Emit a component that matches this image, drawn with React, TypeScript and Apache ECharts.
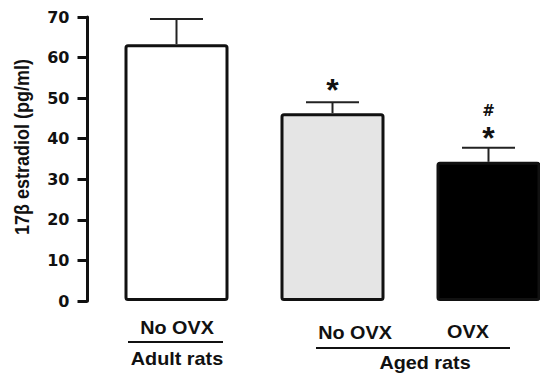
import React, { useEffect, useRef } from "react";
import * as echarts from "echarts";

const categories = ["Adult No OVX", "Aged No OVX", "Aged OVX"];
const means = [63.3, 46.3, 34.3];
const sem = [6.2, 2.7, 3.5];
const starValues = [null, 53.5, 41.7];
const hashValues = [null, null, 47.1];
const yTicks = { min: 0, max: 70, interval: 10 };
const yTitle = "17β estradiol (pg/ml)";
const subLabels = ["No OVX", "No OVX", "OVX"];
const groupLabels = ["Adult rats", "Aged rats"];

const FONT = '"Liberation Sans", Arial, Helvetica, sans-serif';
const WIDE = '"DejaVu Sans", "Liberation Sans", sans-serif';

export default function App() {
  const ref = useRef<HTMLDivElement>(null);
  useEffect(() => {
    if (!ref.current) return;
    const chart = echarts.init(ref.current, null, { renderer: "svg" });
    const fills = ["#ffffff", "#e5e5e5", "#000000"];
    const labelStyle = (text: string, x: number, y: number) => ({
      type: "text",
      x,
      y,
      scaleX: 1.1,
      style: {
        text,
        fontSize: 18,
        fontWeight: "bold",
        fontFamily: FONT,
        fill: "#111",
        align: "center",
        verticalAlign: "middle",
      },
    });
    chart.setOption({
      animation: false,
      grid: {
        left: 98.5,
        width: 468,
        top: 17,
        height: 284,
        containLabel: false,
        outerBoundsMode: "none",
      },
      xAxis: {
        type: "category",
        data: categories,
        axisLine: { show: false },
        axisTick: { show: false },
        axisLabel: { show: false },
        splitLine: { show: false },
      },
      yAxis: {
        type: "value",
        min: yTicks.min,
        max: yTicks.max,
        interval: yTicks.interval,
        offset: 11,
        axisLine: { show: true, lineStyle: { color: "#111", width: 3 } },
        axisTick: { show: true, length: 10, inside: false, lineStyle: { color: "#111", width: 3 } },
        axisLabel: {
          color: "#111",
          fontSize: 16,
          fontWeight: "bold",
          fontFamily: WIDE,
          margin: 18,
        },
        splitLine: { show: false },
      },
      series: [
        {
          type: "bar",
          barWidth: 104,
          data: means.map((v, i) => ({
            value: v,
            itemStyle: {
              color: fills[i],
              borderColor: "#111",
              borderWidth: 3,
              borderRadius: 2,
            },
          })),
          z: 2,
        },
        {
          type: "custom",
          z: 3,
          data: means.map((m, i) => [i, m, m + sem[i]]),
          renderItem: (params: any, api: any) => {
            const base = api.coord([api.value(0), api.value(1)]);
            const top = api.coord([api.value(0), api.value(2)]);
            const st = { stroke: "#222", lineWidth: 2 };
            return {
              type: "group",
              children: [
                { type: "line", shape: { x1: base[0], y1: base[1], x2: base[0], y2: top[1] }, style: st },
                { type: "line", shape: { x1: base[0] - 26.5, y1: top[1], x2: base[0] + 26.5, y2: top[1] }, style: st },
              ],
            };
          },
        },
        {
          type: "custom",
          z: 4,
          data: starValues.map((v, i) => [i, v == null ? NaN : v]).filter((d) => !isNaN(d[1] as number)),
          renderItem: (params: any, api: any) => {
            const p = api.coord([api.value(0), api.value(1)]);
            return {
              type: "text",
              x: p[0],
              y: p[1] + 6,
              style: {
                text: "*",
                fontSize: 32,
                fontWeight: "bold",
                fontFamily: FONT,
                fill: "#111",
                align: "center",
                verticalAlign: "middle",
              },
            };
          },
        },
        {
          type: "custom",
          z: 4,
          data: hashValues.map((v, i) => [i, v == null ? NaN : v]).filter((d) => !isNaN(d[1] as number)),
          renderItem: (params: any, api: any) => {
            const p = api.coord([api.value(0), api.value(1)]);
            return {
              type: "text",
              x: p[0],
              y: p[1] + 1,
              style: {
                text: "#",
                fontSize: 15,
                fontWeight: "bold",
                fontFamily: WIDE,
                fill: "#111",
                align: "center",
                verticalAlign: "middle",
              },
            };
          },
        },
      ],
      graphic: [
        {
          type: "text",
          x: 22,
          y: 147,
          rotation: Math.PI / 2,
          scaleY: 1.15,
          style: {
            text: yTitle,
            fontSize: 18,
            fontWeight: "bold",
            fontFamily: FONT,
            fill: "#111",
            align: "center",
            verticalAlign: "middle",
          },
        },
        labelStyle(subLabels[0], 177, 328),
        { type: "line", shape: { x1: 128, y1: 342, x2: 223, y2: 342 }, style: { stroke: "#111", lineWidth: 2 } },
        labelStyle(groupLabels[0], 177, 359),
        labelStyle(subLabels[1], 355, 333),
        labelStyle(subLabels[2], 468, 332),
        { type: "line", shape: { x1: 316, y1: 348, x2: 510, y2: 348 }, style: { stroke: "#111", lineWidth: 2 } },
        labelStyle(groupLabels[1], 425, 363),
      ],
    });
    return () => chart.dispose();
  }, []);
  return <div ref={ref} style={{ width: 540, height: 375, position: "absolute", left: 0, top: 0 }} />;
}
